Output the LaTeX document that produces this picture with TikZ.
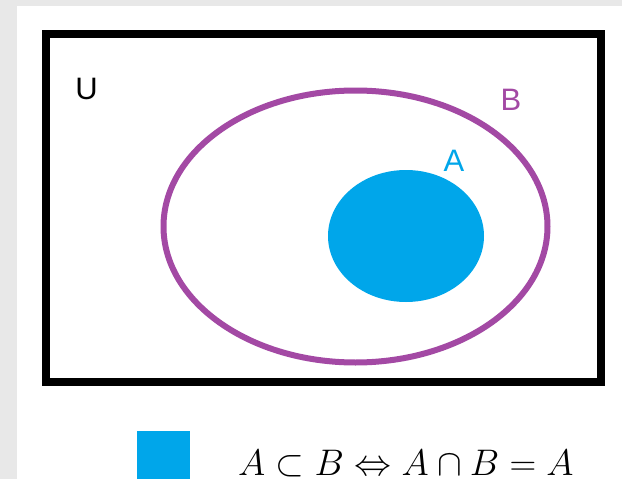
\RequirePackage{fix-cm}
\documentclass[tikz,border=0pt]{standalone}
\usepackage{amsmath, amssymb}
\usepackage{fontspec}
\newfontfamily\labelfont{Liberation Sans}
\usepackage{tikz}
\usetikzlibrary{positioning}
\usepackage{xcolor}

\definecolor{bggray}{RGB}{232,232,232}
\definecolor{setpurple}{RGB}{163,73,164}
\definecolor{setblue}{RGB}{0,166,234}

\tikzset{setlabel/.style={inner sep=0pt, font=\labelfont\fontsize{31}{34}\selectfont}}

\begin{document}
\begin{tikzpicture}[x=1pt,y=-1pt]
  \clip (0,0) rectangle (622,479);
  \fill[bggray] (0,0) rectangle (622,479);
  \fill[white] (17,5.5) rectangle (622,479);
  % Grundmenge
  \draw[line width=8pt] (45.5,34) rectangle (600.5,382);
  \node[setlabel] (lblU) at (86.5,89) {U};
  % Menge B
  \draw[setpurple,line width=6pt] (355.5,226.5) ellipse [x radius=192, y radius=136];
  \node[setlabel,text=setpurple] (lblB) at (511,100) {B};
  % Menge A
  \fill[setblue] (406,236) ellipse [x radius=78, y radius=66];
  \node[setlabel,text=setblue] (lblA) at (454,161) {A};
  % Legende
  \node[fill=setblue,minimum size=53pt,inner sep=0pt] (key) at (163.5,457.5) {};
  \node[anchor=base west,inner sep=0pt,font=\fontsize{37}{40}\selectfont] (rel) at (238,475)
    {$A\subset B\Leftrightarrow A\cap B=A$};
\end{tikzpicture}
\end{document}
